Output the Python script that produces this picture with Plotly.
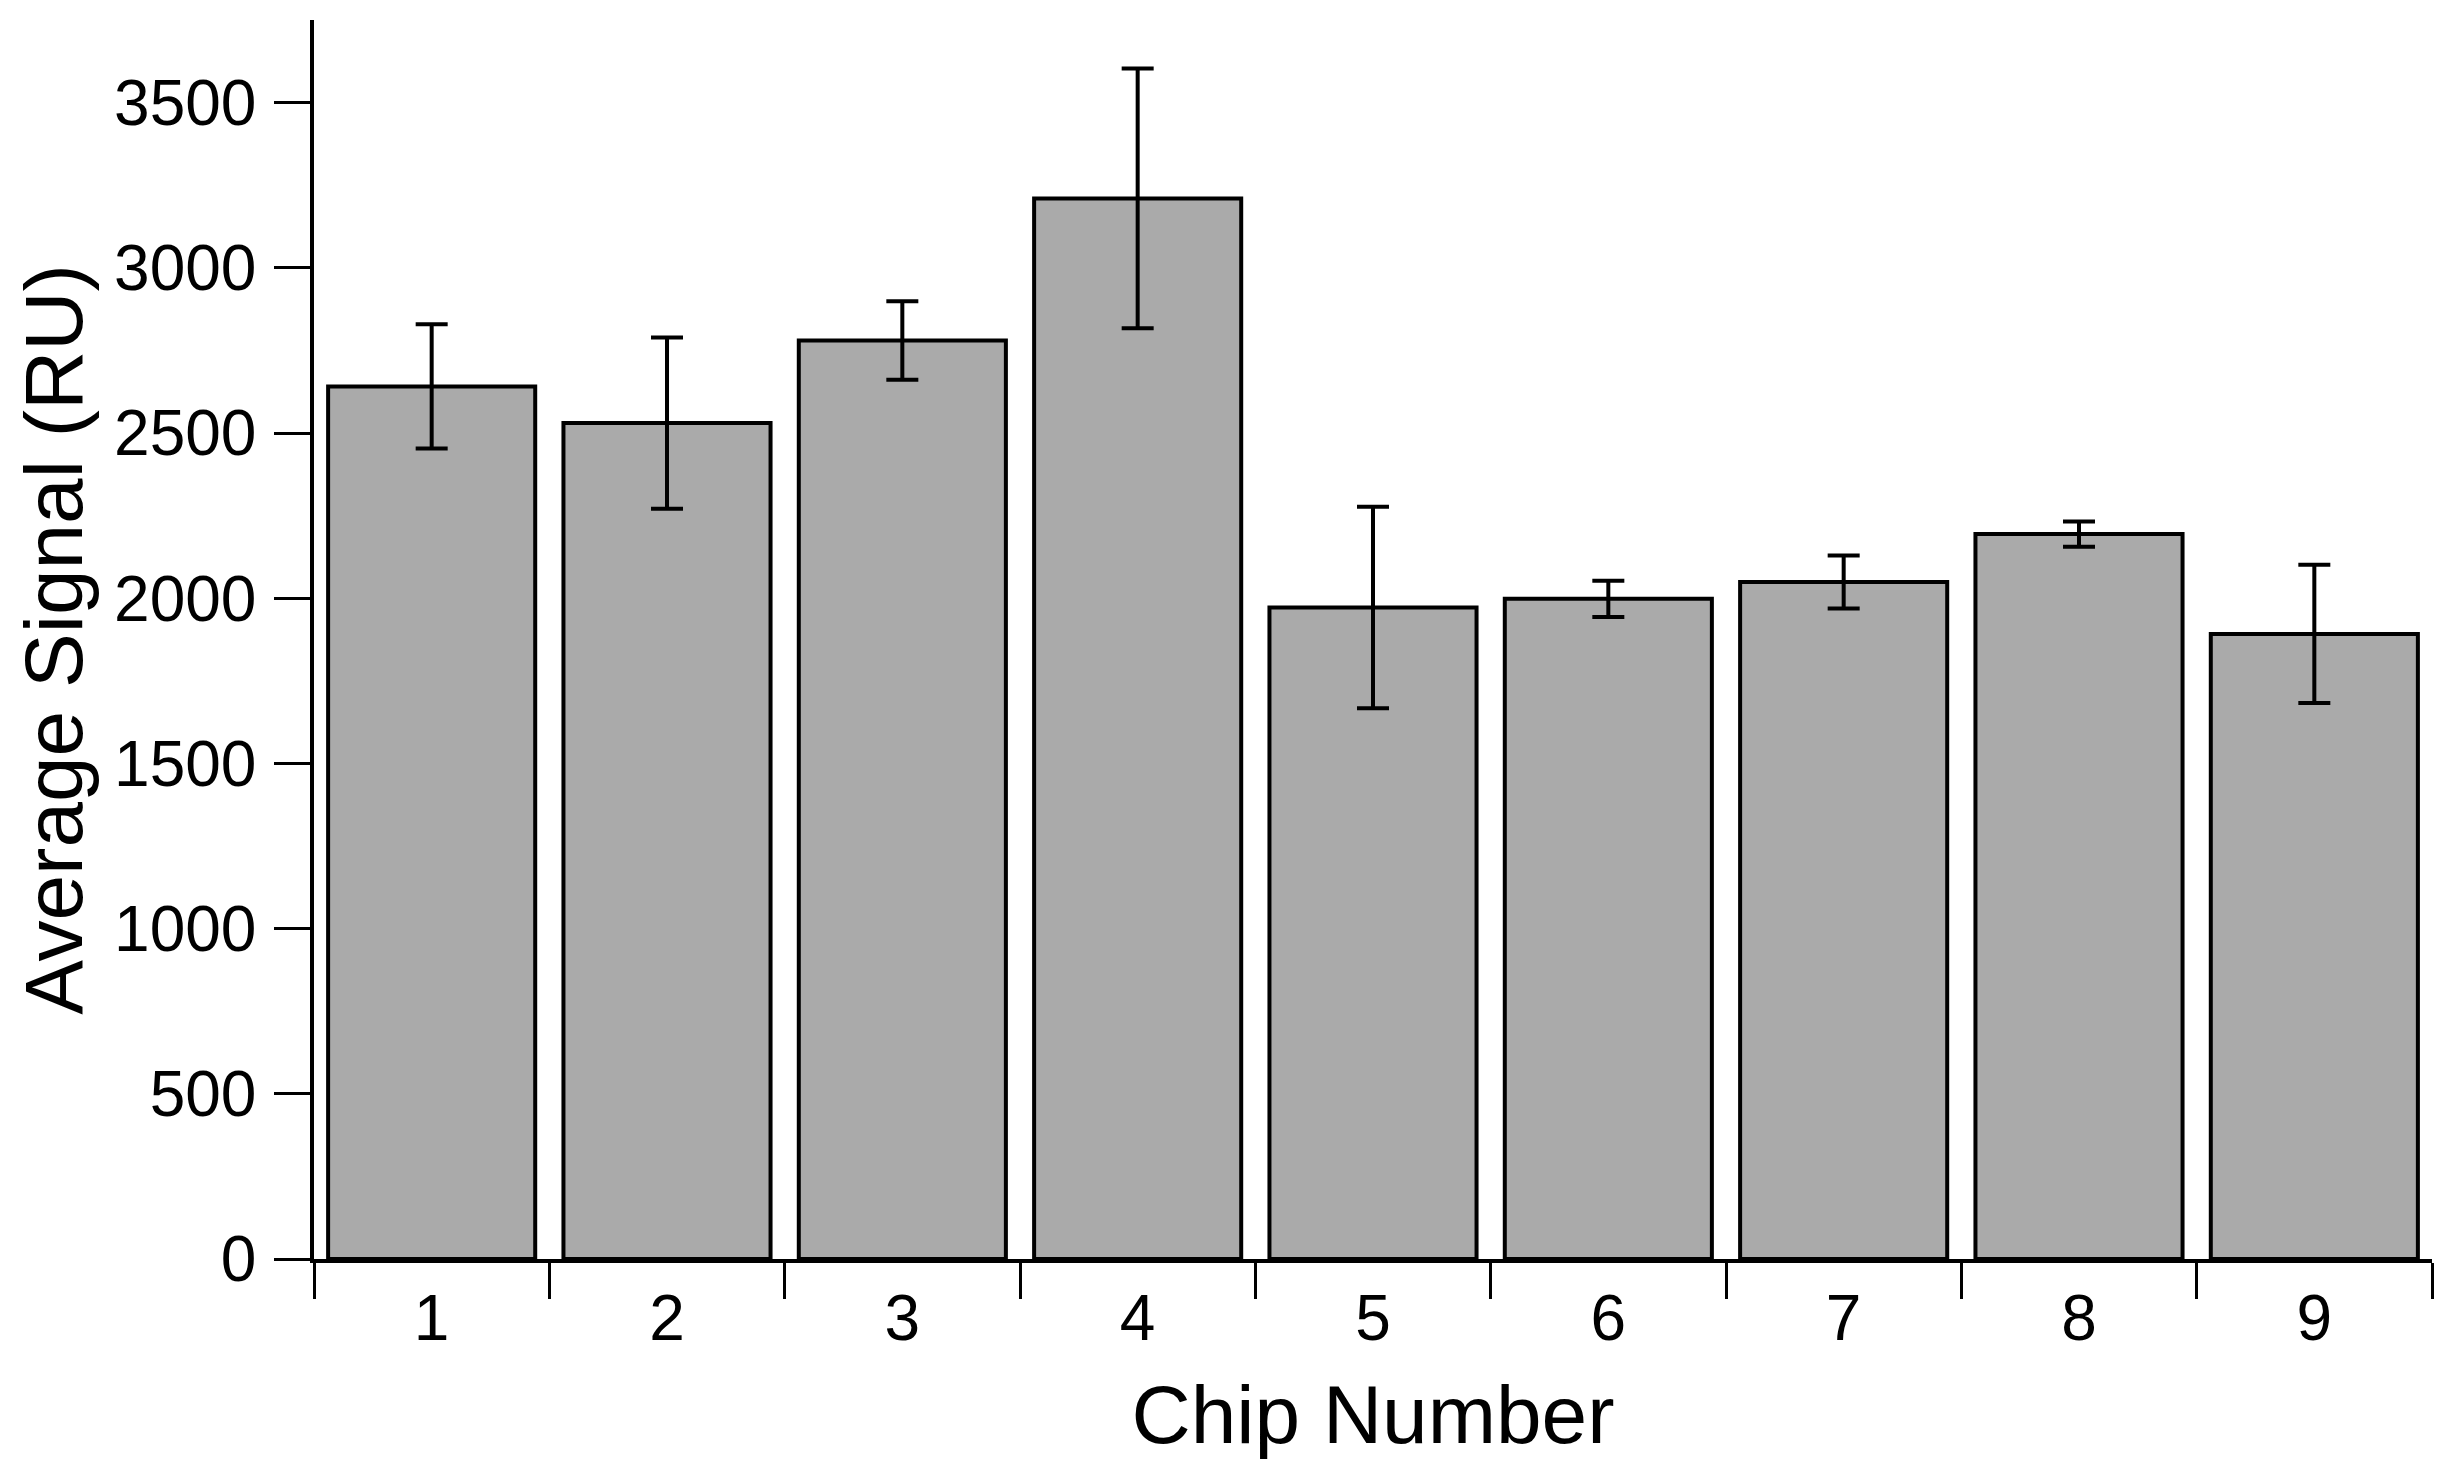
import plotly.graph_objects as go

chips = ["1", "2", "3", "4", "5", "6", "7", "8", "9"]
signal = [2641, 2530, 2780, 3210, 1972, 1998, 2049, 2194, 1892]
error = [188, 259, 119, 393, 305, 55, 80, 38, 209]
y_ticks = [0, 500, 1000, 1500, 2000, 2500, 3000, 3500]

FONT = "Liberation Sans, Arial, Helvetica, sans-serif"

fig = go.Figure(
    go.Bar(
        x=chips,
        y=signal,
        marker=dict(color="#aaaaaa", line=dict(color="black", width=4)),
        error_y=dict(type="data", array=error, visible=True,
                     color="black", thickness=4, width=16),
    )
)

fig.update_layout(
    width=2453,
    height=1459,
    margin=dict(l=306, r=29, t=12, b=208, autoexpand=False),
    paper_bgcolor="white",
    plot_bgcolor="white",
    bargap=0.12,
    showlegend=False,
    font=dict(family=FONT, color="black"),
)

fig.update_xaxes(
    type="category",
    tickson="boundaries",
    ticks="outside",
    ticklen=36,
    tickwidth=3,
    tickcolor="black",
    showline=True,
    linecolor="black",
    linewidth=3.5,
    showgrid=False,
    zeroline=False,
    tickfont=dict(size=64, family=FONT, color="black"),
    ticklabelstandoff=0,
    title=dict(text="Chip Number", font=dict(size=82, family=FONT, color="black"), standoff=34),
    automargin=False,
)

fig.update_yaxes(
    range=[0, 3750],
    tickvals=y_ticks,
    ticks="outside",
    ticklen=36,
    tickwidth=3,
    tickcolor="black",
    showline=True,
    linecolor="black",
    linewidth=3.5,
    showgrid=False,
    zeroline=False,
    tickfont=dict(size=64, family=FONT, color="black"),
    ticklabelstandoff=5,
    title=dict(text="Average Signal (RU)", font=dict(size=82, family=FONT, color="black"), standoff=8),
    automargin=False,
)

fig.write_html("out.html")
